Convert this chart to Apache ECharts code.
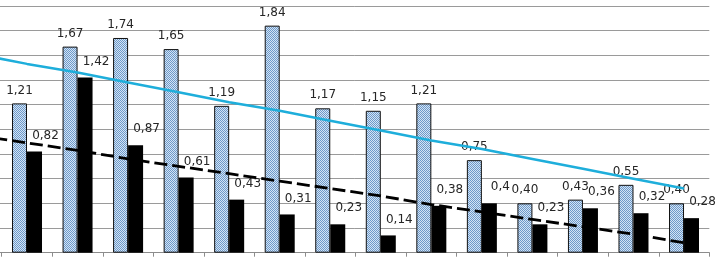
<!DOCTYPE html>
<html>
<head>
<meta charset="utf-8">
<script src="https://cdn.jsdelivr.net/npm/echarts@6/dist/echarts.min.js"></script>
<style>
html,body{margin:0;padding:0;background:#fff;}
#chart{width:719px;height:264px;}
</style>
</head>
<body>
<div id="chart"></div>
<script>
// Category 0 is cropped off the left edge of the reference picture.
var categories = ['0','1','2','3','4','5','6','7','8','9','10','11','12','13','14'];
var patternValues = [null, 1.21, 1.67, 1.74, 1.65, 1.19, 1.84, 1.17, 1.15, 1.21, 0.75, 0.40, 0.43, 0.55, 0.40];
var blackValues   = [null, 0.82, 1.42, 0.87, 0.61, 0.43, 0.31, 0.23, 0.14, 0.38, 0.40, 0.23, 0.36, 0.32, 0.28];
var patternLabels = ['', '1,21', '1,67', '1,74', '1,65', '1,19', '1,84', '1,17', '1,15', '1,21', '0,75', '0,40', '0,43', '0,55', '0,40'];
var blackLabels   = ['', '0,82', '1,42', '0,87', '0,61', '0,43', '0,31', '0,23', '0,14', '0,38', '0,4', '0,23', '0,36', '0,32', '0,28'];
var blueTrend  = [1.61, 1.53, 1.46, 1.38, 1.30, 1.22, 1.15, 1.07, 0.99, 0.91, 0.84, 0.76, 0.68, 0.60, 0.52];
var blackTrend = [0.95, 0.89, 0.83, 0.76, 0.70, 0.64, 0.58, 0.52, 0.46, 0.39, 0.33, 0.27, 0.21, 0.15, 0.08];
var yTicks = {min: 0, max: 2, interval: 0.2};

function makePattern() {
  var c = document.createElement('canvas');
  c.width = 2; c.height = 2;
  var ctx = c.getContext('2d');
  ctx.fillStyle = '#d3e4f5';
  ctx.fillRect(0, 0, 2, 2);
  ctx.fillStyle = '#6e99c9';
  ctx.fillRect(0, 0, 1, 1);
  ctx.fillRect(1, 1, 1, 1);
  return c;
}

var chart = echarts.init(document.getElementById('chart'), null, {renderer: 'canvas'});
var labelFont = {fontFamily: 'DejaVu Sans', fontSize: 12, color: '#262626'};
chart.setOption({
  animation: false,
  grid: {left: -48.8, right: 9.7, top: 5.9, bottom: 11.3, containLabel: false, outerBoundsMode: 'none'},
  xAxis: {
    type: 'category',
    data: categories,
    boundaryGap: true,
    axisLine: {show: true, lineStyle: {color: '#8c8c8c', width: 1}},
    axisTick: {show: true, length: 4, lineStyle: {color: '#8c8c8c'}},
    axisLabel: {show: false},
    splitLine: {show: false}
  },
  yAxis: {
    type: 'value',
    min: yTicks.min, max: yTicks.max, interval: yTicks.interval,
    axisLine: {show: false},
    axisTick: {show: false},
    axisLabel: {show: false},
    splitLine: {show: true, lineStyle: {color: '#9a9a9a', width: 1}}
  },
  series: [
    {
      type: 'bar',
      data: patternValues,
      barWidth: 15,
      barGap: '0%',
      itemStyle: {color: {image: makePattern(), repeat: 'repeat'}, borderColor: '#111', borderWidth: 1},
      label: Object.assign({show: true, position: 'top', distance: 7,
        formatter: function (p) { return patternLabels[p.dataIndex]; }}, labelFont),
      z: 2
    },
    {
      type: 'bar',
      data: blackValues,
      barWidth: 15,
      barGap: '0%',
      itemStyle: {color: '#000'},
      label: Object.assign({show: true, position: 'top', distance: 10, offset: [11, 0],
        formatter: function (p) { return blackLabels[p.dataIndex]; }}, labelFont),
      z: 2
    },
    {
      type: 'line',
      data: blueTrend,
      symbol: 'none',
      lineStyle: {color: '#1eaedb', width: 2.5},
      z: 3,
      silent: true
    },
    {
      type: 'line',
      data: blackTrend,
      symbol: 'none',
      lineStyle: {color: '#000', width: 2.8, type: [13, 5]},
      z: 3,
      silent: true
    }
  ]
});
</script>
</body>
</html>
